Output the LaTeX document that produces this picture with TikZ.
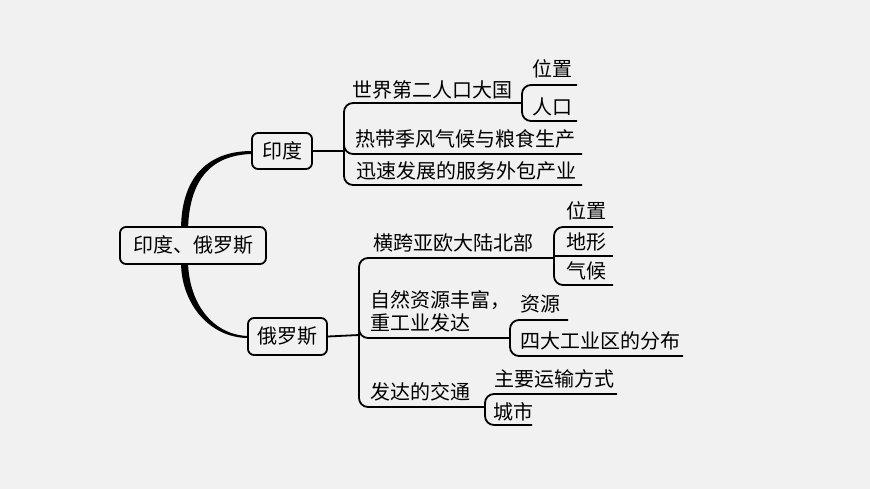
\documentclass[tikz,border=0pt]{standalone}
\usepackage{fontspec}
\newfontfamily\cjk{Noto Sans CJK SC}
\definecolor{bg}{RGB}{241,241,241}
\tikzset{
  txt/.style={font=\cjk\fontsize{20bp}{23bp}\selectfont, inner sep=0pt},
  topicbox/.style={txt, draw, line width=1.8bp, rounded corners=6bp, fill=bg, align=center},
  ln/.style={line width=1.8bp, black, rounded corners=9bp},
  taper/.style={fill=black, draw=none}
}
\begin{document}
\begin{tikzpicture}[x=1bp,y=-1bp]
\fill[bg] (0,0) rectangle (870,489);
\useasboundingbox (0,0) rectangle (870,489);

% tapered main curves
\fill[taper] (181,230) .. controls (181,179) and (206,151) .. (252,151)
  -- (252,154) .. controls (209,155) and (189,182) .. (188,230) -- cycle;
\fill[taper] (181,262) .. controls (181,305) and (211,338) .. (248,338)
  -- (248,336) .. controls (214,335) and (189,305) .. (188,262) -- cycle;

% boxes
\node[topicbox, minimum width=146bp, minimum height=37bp] (root) at (193,245.5) {印度、俄罗斯};
\node[topicbox, minimum width=60bp, minimum height=36bp] (india) at (282,151) {印度};
\node[topicbox, minimum width=79bp, minimum height=37bp] (russia) at (287.5,336.5) {俄罗斯};

% India texts
\node[txt] (i1) at (432,90) {世界第二人口大国};
\node[txt] (i11) at (552,69) {位置};
\node[txt] (i12) at (552,107) {人口};
\node[txt] (i2) at (465,139) {热带季风气候与粮食生产};
\node[txt] (i3) at (466,171) {迅速发展的服务外包产业};

% India connectors
\coordinate (ib) at (344,151);
\draw[ln] (india.east) -- (ib);
\draw[ln] (522,103) -- (344,103) -- (344,185) -- (582,185);
\draw[ln] (344,143) -- (344,154) -- (582,154);
\draw[ln] (577,85) -- (522,85) -- (522,121) -- (577,121);

% Russia texts
\node[txt] (r1) at (453,243) {横跨亚欧大陆北部};
\node[txt] (r11) at (586,211) {位置};
\node[txt] (r12) at (586,242) {地形};
\node[txt] (r13) at (586,271) {气候};
\node[txt, align=left, anchor=west] (r2) at (370,311) {自然资源丰富，\\重工业发达};
\node[txt] (r21) at (540,304) {资源};
\node[txt] (r22) at (600,341) {四大工业区的分布};
\node[txt] (r3) at (420,392) {发达的交通};
\node[txt] (r31) at (554,379) {主要运输方式};
\node[txt] (r32) at (513,412) {城市};

% Russia connectors
\coordinate (rb) at (359,335);
\draw[ln] (russia.east) -- (rb);
\draw[ln] (554,258) -- (359,258) -- (359,407) -- (485,407);
\draw[ln] (359,327) -- (359,338) -- (510,338);
\draw[ln] (613,227) -- (554,227) -- (554,285) -- (613,285);
\draw[ln] (554,256) -- (613,256);
\draw[ln] (568,320) -- (510,320) -- (510,356) -- (683,356);
\draw[ln] (617,394) -- (485,394) -- (485,425) -- (532,425);
\end{tikzpicture}
\end{document}
